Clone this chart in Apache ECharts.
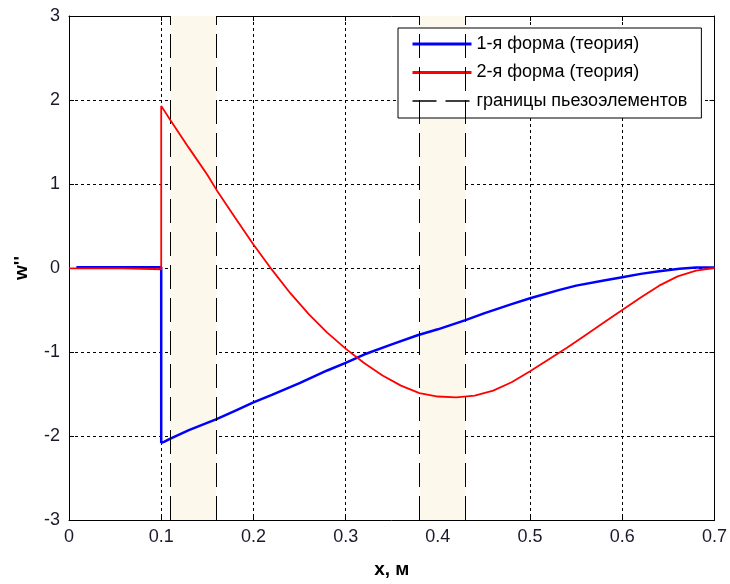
<!DOCTYPE html>
<html><head><meta charset="utf-8">
<script src="https://cdn.jsdelivr.net/npm/echarts@6/dist/echarts.min.js"></script>
<style>html,body{margin:0;padding:0;background:#fff}#c{width:730px;height:584px}</style>
</head><body><div id="c"></div>
<script>
// Form 1 (theory): [x, w'']
const form1 = [
  [0.008, 0.01], [0.1, 0.01], [0.1, -2.08], [0.103, -2.07], [0.11, -2.03], [0.13, -1.93],
  [0.16, -1.80], [0.18, -1.70], [0.2, -1.60], [0.22, -1.51], [0.25, -1.37], [0.28, -1.22],
  [0.3, -1.13], [0.32, -1.03], [0.35, -0.91], [0.378, -0.80], [0.4, -0.73], [0.43, -0.62],
  [0.45, -0.54], [0.48, -0.43], [0.5, -0.36], [0.532, -0.26], [0.55, -0.21], [0.58, -0.15],
  [0.6, -0.11], [0.62, -0.07], [0.64, -0.04], [0.662, -0.01], [0.68, 0.005], [0.7, 0.005]
];
// Form 2 (theory)
const form2 = [
  [0, -0.005], [0.058, -0.005], [0.058, -0.015], [0.1, -0.015], [0.1, 1.93], [0.11, 1.76],
  [0.13, 1.43], [0.15, 1.11], [0.16, 0.93], [0.18, 0.60], [0.2, 0.28], [0.22, -0.02],
  [0.24, -0.30], [0.26, -0.55], [0.28, -0.77], [0.3, -0.96], [0.32, -1.13], [0.34, -1.28],
  [0.36, -1.40], [0.38, -1.49], [0.4, -1.53], [0.42, -1.54], [0.44, -1.52], [0.46, -1.46],
  [0.48, -1.36], [0.5, -1.23], [0.52, -1.09], [0.54, -0.95], [0.56, -0.80], [0.58, -0.65],
  [0.6, -0.50], [0.62, -0.35], [0.64, -0.21], [0.66, -0.10], [0.68, -0.03], [0.7, 0.0]
];
// Piezo element zones [start, end]
const piezoZones = [[0.11, 0.16], [0.38, 0.43]];
const seriesNames = ['1-я форма (теория)', '2-я форма (теория)', 'границы пьезоэлементов'];
const xName = 'x, м';
const yName = "w''";

const chart = echarts.init(document.getElementById('c'));
const font = 'Arial, "Liberation Sans", sans-serif';
const gridLine = {show: true, lineStyle: {color: '#000', type: [3, 3], width: 1}};
const boundaries = [];
piezoZones.forEach(z => { boundaries.push({xAxis: z[0]}); boundaries.push({xAxis: z[1]}); });
const dash = [24, 9];

chart.setOption({
  animation: false,
  backgroundColor: '#fff',
  grid: {left: 69, right: 15, top: 16, bottom: 58},
  legend: {
    orient: 'vertical', left: 398, top: 28,
    backgroundColor: '#fff', borderColor: '#000', borderWidth: 1,
    padding: [7, 14, 8, 13], itemWidth: 59, itemHeight: 18, itemGap: 10.5,
    textStyle: {fontFamily: font, fontSize: 18, color: '#000'},
    itemStyle: {opacity: 0},
    data: [
      {name: seriesNames[0], lineStyle: {width: 3}},
      {name: seriesNames[1], lineStyle: {width: 3}},
      {name: seriesNames[2], lineStyle: {width: 1.3}}
    ]
  },
  xAxis: [{
    type: 'value', min: 0, max: 0.7, interval: 0.1,
    name: xName, nameLocation: 'middle', nameGap: 40,
    nameTextStyle: {fontFamily: font, fontSize: 19, fontWeight: 'bold', color: '#000'},
    axisLine: {onZero: false, lineStyle: {color: '#000'}},
    axisTick: {inside: true, length: 5, lineStyle: {color: '#000'}},
    axisLabel: {fontFamily: font, fontSize: 18, color: '#1a1a2a', margin: 8,
      formatter: v => String(+v.toFixed(1))},
    splitLine: gridLine
  }, {
    type: 'value', position: 'top', min: 0, max: 0.7, interval: 0.1,
    axisLine: {show: true, onZero: false, lineStyle: {color: '#000'}},
    axisTick: {show: true, inside: true, length: 5, lineStyle: {color: '#000'}},
    axisLabel: {show: false}, splitLine: {show: false}
  }],
  yAxis: [{
    type: 'value', min: -3, max: 3, interval: 1,
    name: yName, nameLocation: 'middle', nameGap: 38, nameRotate: 90,
    nameTextStyle: {fontFamily: font, fontSize: 19, fontWeight: 'bold', color: '#000'},
    axisLine: {show: true, onZero: false, lineStyle: {color: '#000'}},
    axisTick: {show: true, inside: true, length: 5, lineStyle: {color: '#000'}},
    axisLabel: {fontFamily: font, fontSize: 18, color: '#1a1a2a', margin: 9},
    splitLine: gridLine
  }, {
    type: 'value', position: 'right', min: -3, max: 3, interval: 1,
    axisLine: {show: true, onZero: false, lineStyle: {color: '#000'}},
    axisTick: {show: true, inside: true, length: 5, lineStyle: {color: '#000'}},
    axisLabel: {show: false}, splitLine: {show: false}
  }],
  series: [{
    name: seriesNames[2], type: 'line', data: [], symbol: 'none',
    itemStyle: {color: '#000'},
    lineStyle: {color: '#000', width: 1, type: dash},
    markArea: {silent: true, itemStyle: {color: '#fdf8ec'},
      data: piezoZones.map(z => [{xAxis: z[0]}, {xAxis: z[1]}])},
    markLine: {silent: true, symbol: 'none', label: {show: false},
      lineStyle: {color: '#000', width: 1, type: dash}, data: boundaries}
  }, {
    name: seriesNames[0], type: 'line', data: form1, symbol: 'none', z: 4,
    itemStyle: {color: '#0000ff'}, lineStyle: {color: '#0000ff', width: 2.5}
  }, {
    name: seriesNames[1], type: 'line', data: form2, symbol: 'none', z: 5,
    itemStyle: {color: '#ff0000'}, lineStyle: {color: '#ff0000', width: 1.8}
  }]
});
</script></body></html>
